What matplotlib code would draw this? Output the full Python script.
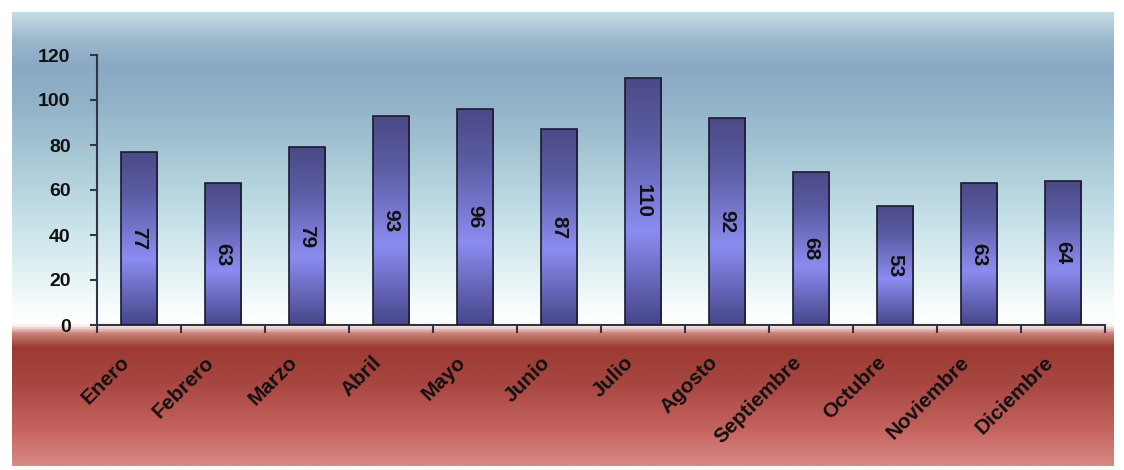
import numpy as np
import matplotlib
matplotlib.use("Agg")
import matplotlib.pyplot as plt
from matplotlib.colors import LinearSegmentedColormap
from matplotlib.patches import Rectangle
from matplotlib.transforms import ScaledTranslation

months = ["Enero", "Febrero", "Marzo", "Abril", "Mayo", "Junio", "Julio",
          "Agosto", "Septiembre", "Octubre", "Noviembre", "Diciembre"]
values = [77, 63, 79, 93, 96, 87, 110, 92, 68, 53, 63, 64]
yticks = [0, 20, 40, 60, 80, 100, 120]

plt.rcParams["font.family"] = ["Liberation Sans", "DejaVu Sans"]

W, H = 1124, 470
fig = plt.figure(figsize=(W / 100, H / 100), dpi=100)
fig.patch.set_facecolor("white")

# background panel gradient
bg = fig.add_axes([12 / W, 1 - 466 / H, (1114 - 12) / W, (466 - 12) / H], zorder=0)
bg_cmap = LinearSegmentedColormap.from_list("bg", [
    (0.00, "#c4dce2"),
    (0.06, "#9ab8cc"),
    (0.12, "#8aa8c4"),
    (0.20, "#92b2c8"),
    (0.32, "#a8c8d6"),
    (0.45, "#c4e0e8"),
    (0.58, "#e4f2f4"),
    (0.66, "#fafdfd"),
    (0.685, "#ffffff"),
    (0.695, "#f6e6e4"),
    (0.71, "#c88078"),
    (0.74, "#9c3a32"),
    (0.82, "#a84642"),
    (0.92, "#c4625e"),
    (1.00, "#d88a84"),
])
grad = np.linspace(0, 1, 500).reshape(-1, 1)
bg.imshow(grad, aspect="auto", cmap=bg_cmap, extent=[0, 1, 1, 0])
bg.set_xlim(0, 1)
bg.set_ylim(1, 0)
bg.axis("off")

ax = fig.add_axes([97 / W, 1 - 325 / H, (1105 - 97) / W, (325 - 55) / H], zorder=1)
ax.patch.set_alpha(0)
x = np.arange(len(months))

bar_cmap = LinearSegmentedColormap.from_list("bar", [
    (0.0, "#4a4a86"),
    (0.25, "#5c5ca4"),
    (0.62, "#8c8cf0"),
    (1.0, "#46468a"),
])
bw = 0.43
bars = ax.bar(x, values, width=bw, color="none", edgecolor="#1a1a30", linewidth=1.2, zorder=3)
for b in bars:
    x0, y0 = b.get_x(), b.get_y()
    w, h = b.get_width(), b.get_height()
    im = ax.imshow(grad, aspect="auto", cmap=bar_cmap,
                   extent=[x0, x0 + w, y0, y0 + h], origin="upper", zorder=2)
    im.set_clip_path(Rectangle((x0, y0), w, h, transform=ax.transData))
ax.set_xlim(-0.5, len(months) - 0.5)
ax.set_ylim(0, 120)

for xi, v in zip(x, values):
    ax.text(xi, v / 2, str(v), rotation=-90, ha="center", va="center",
            fontsize=15, fontweight="bold", color="#111111", zorder=4)

for s in ["top", "right"]:
    ax.spines[s].set_visible(False)
for s in ["left", "bottom"]:
    ax.spines[s].set_color("#333344")
    ax.spines[s].set_linewidth(1.5)

ax.set_yticks(yticks)
ax.set_yticklabels([str(t) for t in yticks], fontsize=14, fontweight="bold", color="#111111")
ax.tick_params(axis="y", direction="out", length=5, width=1.5, color="#333344", pad=14)
ax.set_xticks(np.arange(len(months) + 1) - 0.5, minor=False)
ax.set_xticklabels([""] * (len(months) + 1))
ax.tick_params(axis="x", direction="out", length=6, width=1.5, color="#333344")
ax.set_xticks(x, minor=True)
ax.set_xticklabels(months, minor=True, rotation=45, ha="right", rotation_mode="anchor",
                   fontsize=15, fontweight="bold", color="#111111")
ax.tick_params(axis="x", which="minor", length=0, pad=20)
off = ScaledTranslation(-19 / 100, 0, fig.dpi_scale_trans)
for lab in ax.get_xticklabels(minor=True):
    lab.set_transform(lab.get_transform() + off)

fig.savefig("out.png", dpi=100)
